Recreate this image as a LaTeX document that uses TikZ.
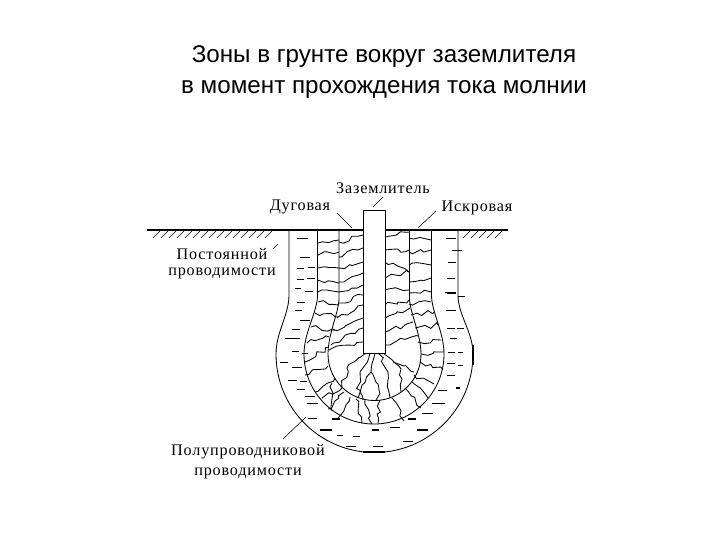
\documentclass[tikz,border=0pt]{standalone}
\usepackage{fontspec}
\setmainfont{Liberation Serif}
\newfontfamily\titlefont{Liberation Sans}
\newfontfamily\lblfont[LetterSpace=5]{Liberation Serif}
\usetikzlibrary{decorations.pathmorphing}
\tikzset{
    zone/.style={line width=0.6pt},
    crack/.style={line width=0.6pt,decorate,decoration={random steps,segment length=3.6pt,amplitude=1.7pt}},
    dashthin/.style={line width=0.55pt},
    dashbold/.style={line width=1.4pt},
    leader/.style={line width=0.4pt},
    lbl/.style={font=\lblfont\fontsize{11.5}{13}\selectfont,inner sep=0pt},
    headline/.style={font=\titlefont\fontsize{17.2}{22}\selectfont,align=center,inner sep=0pt}
}
\pgfmathsetseed{7}
\begin{document}
\begin{tikzpicture}[x=0.025cm,y=-0.025cm]
    \useasboundingbox (0,0) rectangle (720,540);
    \node[headline] (title) at (384,72) {Зоны в грунте вокруг заземлителя\\в момент прохождения тока молнии};

    % labels
    \node[lbl] (rod) at (383,188) {Заземлитель};
    \node[lbl] (arc) at (300,207) {Дуговая};
    \node[lbl] (spark) at (477,208) {Искровая};
    \node[lbl,align=center] (const) at (222,264) {Постоянной\\[-1.5pt]проводимости};
    \node[lbl,align=center] (semi) at (248,462) {Полупроводниковой\\[1pt]проводимости};

    % hatching and ground
    \foreach \hx in {153,161,...,271} \draw[line width=0.35pt] (\hx,238) -- (\hx+7,231);
    \foreach \hx in {463,471,...,495} \draw[line width=0.35pt] (\hx,238) -- (\hx+7,231);
    \draw[line width=1.2pt] (147,230) -- (508,230);

    % zones
    \draw[zone] (289,230) -- (289,295) .. controls (289,315) and (276,332) .. (276,354)
        arc[start angle=180,end angle=0,radius=98.5]
        .. controls (473,332) and (458,315) .. (458,295) -- (458,230);
    \draw[zone] (317.5,230) -- (317.5,295) .. controls (317.5,312) and (304,332) .. (304,354)
        arc[start angle=180,end angle=0,radius=70]
        .. controls (444,332) and (431.5,312) .. (431.5,295) -- (431.5,230);
    \draw[zone] (339,230) -- (339,298) .. controls (339,312) and (328,334) .. (328,354)
        arc[start angle=180,end angle=0,radius=46.5]
        .. controls (421,334) and (409.5,312) .. (409.5,298) -- (409.5,230);
    \draw[line width=1.3pt] (472.7,345) -- (472.7,365);
    \draw[line width=1.3pt] (363,451.7) -- (385,451.7);

    % cracks, left and right of the rod
    \foreach \xa/\ya/\xb/\yb in {
        318/243/339/240, 318/255/339/252, 318/268/339/268, 318/280/339/283,
        318/292/339/292, 318/302/339/305, 315/313/338/317, 311/327/335/330,
        307/343/329/337, 305/362/329/347, 339/242/363/235, 339/257/363/248,
        339/268/363/262, 339/282/363/273, 339/292/363/285, 339/303/363/295,
        337/318/363/305, 333/330/363/318, 331/345/363/328, 329/350/363/342,
        385/237/409/232, 385/250/409/250, 385/262/409/272, 385/278/409/272,
        385/290/409/290, 385/305/409/300, 385/318/410/308, 385/332/413/322,
        385/345/418/336, 409/238/431/240, 409/252/431/250, 409/265/431/265,
        409/282/431/278, 409/293/431/292, 409/304/431/302, 411/315/434/312,
        415/328/438/325, 418/342/441/340, 421/354/444/352} {
        \draw[crack] (\xa,\ya) -- (\xb,\yb);
    }
    % cracks below the rod
    \foreach \xa/\ya/\xb/\yb in {
        366/353/347/368, 347/368/342/388, 370/353/360/372, 360/372/358/398,
        375/353/371/372, 371/372/362/385, 362/385/363/400, 371/372/379/390,
        379/390/376/400, 378/353/388/372, 388/372/390/398, 383/353/399/366,
        399/366/401/392, 393/362/414/372, 328/366/305/375, 342/388/322/398,
        350/397/338/418, 365/400/372/424, 380/400/378/423, 392/398/404/421,
        405/388/421/408, 414/375/434/384, 420/362/443/370, 335/378/315/392,
        356/399/362/423, 332/383/332/411, 344/392/328/409, 412/382/428/398} {
        \draw[crack] (\xa,\ya) -- (\xb,\yb);
    }

    % dashes in the outer zone
    \foreach \xa/\xb/\ya in {
        297/308/238, 300/310/257, 297/304/268, 308/315/267, 297/304/279, 307/315/278,
        295/301/288, 305/313/291, 297/305/302, 295/302/310, 300/310/320, 292/300/329,
        292/300/338, 285/292/338, 292/299/351, 302/308/353, 280/288/362, 292/302/367,
        288/297/380, 300/307/381, 297/305/389, 305/315/396, 307/318/403,
        308/317/418, 337/343/435, 353/360/436, 390/400/427, 422/433/413, 432/445/403,
        438/447/390, 447/455/375, 447/455/363, 458/463/365, 448/455/352, 458/463/352,
        450/457/338, 447/455/328, 457/464/328, 446/456/310, 445/453/292, 458/465/296,
        447/455/278, 448/456/262, 446/456/238, 452/462/250, 346/356/446, 373/383/446, 403/413/441} {
        \draw[dashthin] (\xa,\ya) -- (\xb,\ya);
    }
    \foreach \xa/\xb/\ya in {
        332/340/419, 320/332/430, 372/379/430, 408/416/419, 417/428/430, 456/460/388,
        447/456/293} {
        \draw[dashbold] (\xa,\ya) -- (\xb,\ya);
    }

    % electrode
    \draw[line width=0.7pt,fill=white] (363.5,353) rectangle (385,210);

    % leaders
    \coordinate (rodA) at (373,207);
    \coordinate (rodB) at (383,197);
    \coordinate (arcA) at (337,213);
    \coordinate (arcB) at (352,228);
    \coordinate (sparkA) at (436,211);
    \coordinate (sparkB) at (418,228);
    \coordinate (constA) at (278,244);
    \coordinate (constB) at (273,249);
    \coordinate (semiA) at (306,417);
    \coordinate (semiB) at (283,439);
    \draw[leader] (rodA) -- (rodB);
    \draw[leader] (arcA) -- (arcB);
    \draw[leader] (sparkA) -- (sparkB);
    \draw[leader] (constA) -- (constB);
    \draw[leader] (semiA) -- (semiB);
\end{tikzpicture}
\end{document}
